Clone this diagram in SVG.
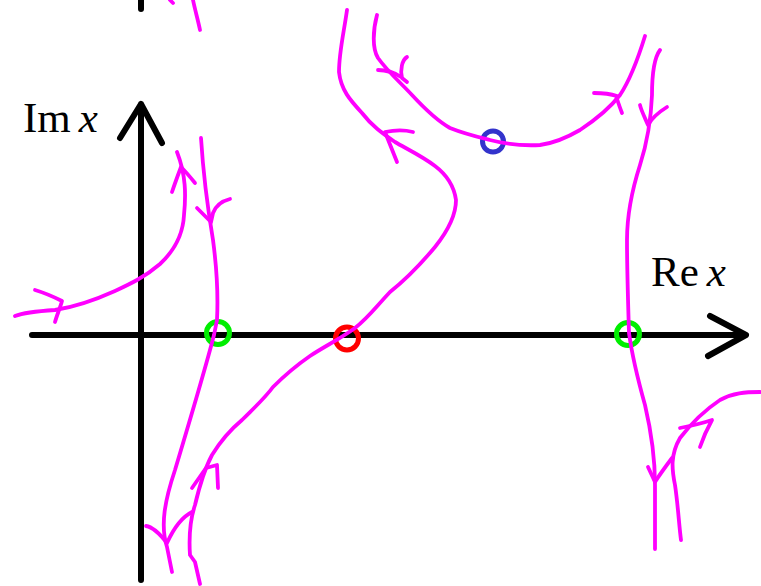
<svg xmlns="http://www.w3.org/2000/svg" width="761" height="586" viewBox="0 0 761 586">
<style>
.ax{fill:none;stroke:#000;stroke-width:6;stroke-linecap:round;stroke-linejoin:round}
.fl{fill:none;stroke:#ff00ff;stroke-width:3.8;stroke-linecap:round;stroke-linejoin:round}
.pt{fill:none;stroke-width:5}
.lbl{font-family:"Liberation Serif","DejaVu Serif",serif;font-size:43px;fill:#000}
</style>
<rect width="761" height="586" fill="#fff"/>
<g id="axes">
<path class="ax" d="M32,335 L745,335 M710,316 L746,335 L708,356"/>
<path class="ax" d="M141,580 L141,104 M120,138 L141,104 L162,143"/>
<path class="ax" d="M141,0 L141,9"/>
</g>
<g id="points">
<circle id="green1" class="pt" cx="218" cy="333" r="11.5" stroke="#00ee00"/>
<circle id="green2" class="pt" cx="628" cy="334" r="11.5" stroke="#00ee00"/>
<circle id="red" class="pt" cx="347" cy="338.5" r="11.5" stroke="#ff0000"/>
<circle id="blue" class="pt" cx="493" cy="141.5" r="10.5" stroke="#3333cc"/>
</g>
<g id="connectors">
<path class="fl" d="M170,0 L173,3"/>
<path class="fl" d="M193,0 C195,10 198,20 200,30"/>
<path class="fl" d="M15,316 C25,312 40,311 55,310 C75,307 95,300 115,291 C130,284 145,277 160,264 C175,250 183,235 184,215 C186,195 186,175 177,152"/>
<path class="fl" d="M172,192 C175,183 178,175 181,167 C186,172 191,178 195,183"/>
<path class="fl" d="M35,290 C45,293 54,297 62,301 C60,308 57,315 55,322"/>
<path class="fl" d="M201,138 C203,170 208,210 213,240 C217,270 218,300 217,320 L214,335 C205,370 190,420 175,470 C165,500 160,525 167,547 L172,572"/>
<path class="fl" d="M197,208 L211,222 M230,199 C222,201 216,205 213,213 L211,222"/>
<path class="fl" d="M146,526 C153,527 160,534 167,543 C172,532 180,518 192,512"/>
<path class="fl" d="M200,584 L195,562 L190,555 C189,540 190,520 195,505 C199,488 204,470 212,455 C220,442 230,430 242,420 C255,407 265,398 273,387 C285,375 297,365 310,356 C325,346 340,339 355,328 C368,318 375,308 390,292 C405,280 420,265 435,247 C447,232 456,217 456,200 C454,186 447,175 435,166 C422,156 405,148 395,142 C382,133 372,126 362,113 C350,100 341,90 339,72 C339,52 344,32 347,10"/>
<path class="fl" d="M413,132 C405,130 395,130 385,132 C389,142 393,152 397,162"/>
<path class="fl" d="M377,15 C373,30 372,48 378,58 C388,72 400,82 412,95 C424,108 436,120 450,128 C465,134 478,137 490,140 C505,144 520,146 540,145 C555,143 568,137 580,130 C595,120 610,108 620,95 C630,80 637,62 645,36"/>
<path class="fl" d="M378,70 C387,70 395,73 401,77 M407,57 C402,60 400,70 402,78 L407,82"/>
<path class="fl" d="M594,93 C603,93 611,94 617,96 M616,96 C618,102 620,108 622,113"/>
<path class="fl" d="M660,50 C654,58 652,75 652,95 C651,120 648,140 640,165 C632,190 627,215 627,240 C627,270 628,300 629,333 C632,355 638,380 645,405 C652,435 655,460 655,485 L655,549"/>
<path class="fl" d="M640,105 C641,110 645,118 648,125 C652,118 659,112 667,107"/>
<path class="fl" d="M648,467 L655,482 C660,474 666,466 672,458"/>
<path class="fl" d="M681,540 C679,525 678,505 675,485 C672,470 670,455 680,438 C690,425 705,410 720,400 C733,393 745,392 760,392"/>
<path class="fl" d="M680,428 C690,426 700,424 712,420 C707,429 703,438 700,447"/>
<path class="fl" d="M192,488 L206,468 L217,465 L218,488"/>
</g>
<g id="labels">
<text class="lbl" x="23" y="132">Im<tspan font-style="italic" dx="8">x</tspan></text>
<text class="lbl" x="651" y="286">Re<tspan font-style="italic" dx="8">x</tspan></text>
</g>
</svg>
